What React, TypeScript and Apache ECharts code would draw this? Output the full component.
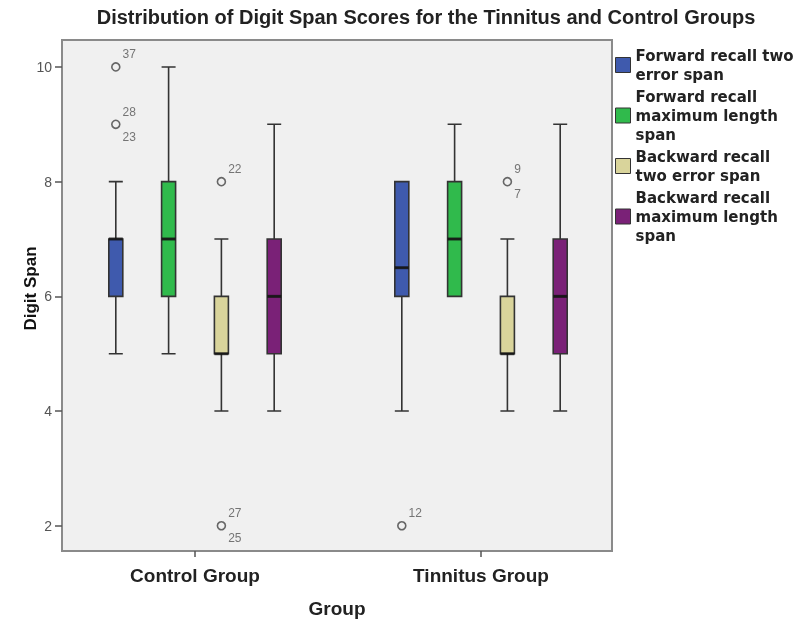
import React, { useEffect, useRef } from "react";
import * as echarts from "echarts";

const groups = ["Control Group", "Tinnitus Group"];
const measures = [
  "Forward recall two\nerror span",
  "Forward recall\nmaximum length\nspan",
  "Backward recall\ntwo error span",
  "Backward recall\nmaximum length\nspan",
];
// [min, Q1, median, Q3, max] for Control, Tinnitus
const forwardTwoError = [
  [5, 6, 7, 7, 8],
  [4, 6, 6.5, 8, 8],
];
const forwardMaxLength = [
  [5, 6, 7, 8, 10],
  [6, 6, 7, 8, 9],
];
const backwardTwoError = [
  [4, 5, 5, 6, 7],
  [4, 5, 5, 6, 7],
];
const backwardMaxLength = [
  [4, 5, 6, 7, 9],
  [4, 5, 6, 7, 9],
];
const outlierGroup = [0, 0, 0, 0, 1, 1];
const outlierMeasure = [0, 0, 2, 2, 0, 2];
const outlierValue = [10, 9, 8, 2, 2, 8];
const outlierCases = [["37"], ["28", "23"], ["22"], ["27", "25"], ["12"], ["9", "7"]];
const yTicks = [2, 4, 6, 8, 10];
const colors = ["#3F5AAD", "#30BA4C", "#D9D49B", "#7A2177"];

const boxData = [forwardTwoError, forwardMaxLength, backwardTwoError, backwardMaxLength];
const STEP = 0.1846;
const xPos = (g: number, m: number) => g + 1 + (m - 1.5) * STEP;
const FONT = "'Liberation Sans', Arial, sans-serif";

export default function App() {
  const ref = useRef<HTMLDivElement>(null);
  useEffect(() => {
    if (!ref.current) return;
    const chart = echarts.init(ref.current, null, { renderer: "svg" });
    const baseX = { type: "value", min: 0.535, max: 2.458, gridIndex: 0 };
    const groupTicks = groups.map((_, i) => i + 1);
    chart.setOption({
      animation: false,
      title: {
        text: "Distribution of Digit Span Scores for the Tinnitus and Control Groups",
        left: 426,
        top: 7,
        textAlign: "center",
        padding: 0,
        textStyle: { fontFamily: FONT, fontWeight: "bold", fontSize: 20, color: "#222" },
      },
      legend: {
        orient: "vertical",
        left: 615,
        top: 46,
        padding: 0,
        icon: "rect",
        itemWidth: 15,
        itemHeight: 15,
        itemGap: 3,
        selectedMode: false,
        data: measures.map((n, i) => ({
          name: n,
          itemStyle: { color: colors[i], borderColor: "#333", borderWidth: 1 },
        })),
        textStyle: {
          fontFamily: "'DejaVu Sans', sans-serif",
          fontWeight: "bold",
          fontSize: 15,
          lineHeight: 19,
          color: "#222",
        },
      },
      grid: {
        left: 62,
        right: 187,
        top: 40,
        bottom: 71,
        show: true,
        backgroundColor: "#F0F0F0",
        borderColor: "#8a8a8a",
        borderWidth: 2,
      },
      xAxis: [
        {
          ...baseX,
          name: "Group",
          nameLocation: "middle",
          nameGap: 48,
          nameMoveOverlap: false,
          nameTextStyle: { fontFamily: FONT, fontWeight: "bold", fontSize: 19, color: "#222" },
          axisLine: { show: false },
          splitLine: { show: false },
          axisTick: { show: true, customValues: groupTicks, length: 6, lineStyle: { color: "#555", width: 1.5 } },
          axisLabel: {
            customValues: groupTicks,
            formatter: (v: number) => groups[Math.round(v) - 1] ?? "",
            margin: 15,
            fontFamily: FONT,
            fontWeight: "bold",
            fontSize: 19,
            color: "#222",
          },
        },
        ...[1, 2, 3].map(() => ({ ...baseX, show: false })),
      ],
      yAxis: {
        type: "value",
        min: 1.56,
        max: 10.47,
        name: "Digit Span",
        nameLocation: "middle",
        nameGap: 23,
        nameMoveOverlap: false,
        nameTextStyle: { fontFamily: FONT, fontWeight: "bold", fontSize: 17, color: "#111", padding: [0, 0, 0, 14] },
        axisLine: { show: false },
        splitLine: { show: false },
        axisTick: { show: true, customValues: yTicks, length: 7, lineStyle: { color: "#555", width: 1.5 } },
        axisLabel: { customValues: yTicks, margin: 10, fontFamily: FONT, fontSize: 14, color: "#555" },
      },
      series: [
        ...boxData.map((d, m) => ({
          type: "boxplot",
          name: measures[m],
          xAxisIndex: m,
          yAxisIndex: 0,
          boxWidth: [14, 14],
          silent: true,
          itemStyle: { color: colors[m], borderColor: "#333", borderWidth: 1.6 },
          data: d.map((v, g) => [xPos(g, m), ...v]),
        })),
        {
          type: "scatter",
          name: "median",
          xAxisIndex: 0,
          silent: true,
          symbol: "rect",
          symbolSize: [14, 3],
          z: 5,
          itemStyle: { color: "#111" },
          data: boxData.flatMap((d, m) => d.map((v, g) => [xPos(g, m), v[2]])),
        },
        {
          type: "scatter",
          name: "outliers",
          xAxisIndex: 0,
          silent: true,
          symbol: "circle",
          symbolSize: 8,
          z: 6,
          itemStyle: { color: "#F0F0F0", borderColor: "#444", borderWidth: 1.6 },
          data: outlierValue.map((v, i) => [xPos(outlierGroup[i], outlierMeasure[i]), v]),
          label: {
            show: true,
            position: "right",
            distance: 2,
            formatter: (p: any) => {
              const c = outlierCases[p.dataIndex];
              return c[0] + "\n \n" + (c[1] ?? " ");
            },
            fontFamily: FONT,
            fontSize: 12,
            lineHeight: 12.5,
            color: "#555",
          },
        },
      ],
    });
    return () => chart.dispose();
  }, []);
  return <div ref={ref} style={{ position: "fixed", left: 0, top: 0, width: 799, height: 623 }} />;
}
